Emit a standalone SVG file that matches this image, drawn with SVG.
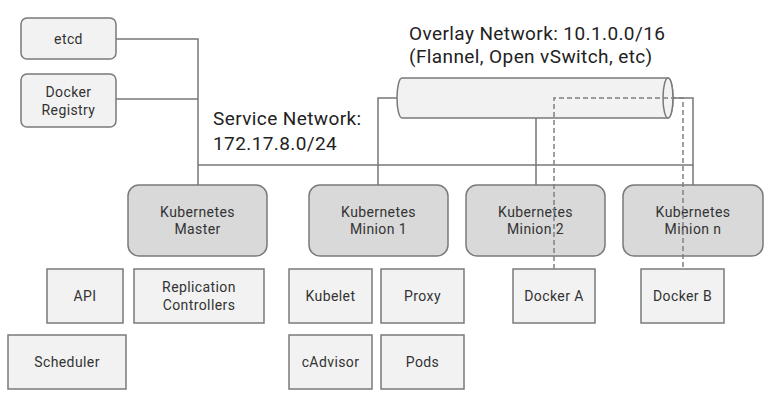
<svg xmlns="http://www.w3.org/2000/svg" width="773" height="407" viewBox="0 0 773 407">
<style>
.box{fill:#f2f2f2;stroke:#7a7a7a;stroke-width:1.5}
.kbox{fill:#d9d9d9;stroke:#7a7a7a;stroke-width:1.5}
.t{font-family:Roboto,"Liberation Sans",sans-serif;font-size:14px;letter-spacing:0.4px;fill:#333;text-anchor:middle}
.big{font-family:Roboto,"Liberation Sans",sans-serif;font-size:19px;letter-spacing:0.4px;fill:#222}
.ln{fill:none;stroke:#777;stroke-width:1.5}
.dash{fill:none;stroke:#808080;stroke-width:1.5;stroke-dasharray:5,3}
</style>
<rect width="773" height="407" fill="#fff"/>
<g id="labels">
<text class="big" x="409" y="40">Overlay Network: 10.1.0.0/16</text>
<text class="big" x="409" y="63">(Flannel, Open vSwitch, etc)</text>
<text class="big" x="213" y="125">Service Network:</text>
<text class="big" x="213" y="150">172.17.8.0/24</text>
</g>
<g id="connectors">
<path class="ln" d="M116,39 H198 V185"/>
<path class="ln" d="M116,99 H198"/>
<path class="ln" d="M198,165 H693"/>
<path class="ln" d="M397,98 H378 V185"/>
<path class="ln" d="M536,118 V185"/>
<path class="ln" d="M673,98 H693 V185"/>
</g>
<g id="overlay-network">
<path class="box" d="M402,78 H668 A5,20 0 0 1 668,118 H402 A5,20 0 0 1 402,78 Z"/>
<ellipse class="box" cx="668" cy="98" rx="5" ry="20"/>
</g>
<g id="etcd"><rect class="box" x="21" y="18" width="95" height="41" rx="6"/><text class="t" x="68.5" y="43.5">etcd</text></g>
<g id="docker-registry"><rect class="box" x="21" y="74" width="95" height="53" rx="6"/><text class="t" x="68.5" y="97">Docker</text><text class="t" x="68.5" y="115">Registry</text></g>
<g id="master"><rect class="kbox" x="128" y="185" width="139" height="71" rx="11"/><text class="t" x="197.5" y="217">Kubernetes</text><text class="t" x="197.5" y="234">Master</text></g>
<g id="minion1"><rect class="kbox" x="309" y="185" width="139" height="71" rx="11"/><text class="t" x="378.5" y="217">Kubernetes</text><text class="t" x="378.5" y="234">Minion 1</text></g>
<g id="minion2"><rect class="kbox" x="466" y="185" width="139" height="71" rx="11"/><text class="t" x="535.5" y="217">Kubernetes</text><text class="t" x="535.5" y="234">Minion 2</text></g>
<g id="minionn"><rect class="kbox" x="623" y="185" width="140" height="71" rx="11"/><text class="t" x="693" y="217">Kubernetes</text><text class="t" x="693" y="234">Minion n</text></g>
<g id="api"><rect class="box" x="47" y="269" width="76" height="54"/><text class="t" x="85" y="301">API</text></g>
<g id="replication"><rect class="box" x="134" y="269" width="130" height="54"/><text class="t" x="199" y="292">Replication</text><text class="t" x="199" y="310">Controllers</text></g>
<g id="scheduler"><rect class="box" x="8" y="335" width="118" height="54"/><text class="t" x="67" y="367">Scheduler</text></g>
<g id="kubelet"><rect class="box" x="289" y="269" width="83" height="54"/><text class="t" x="330.5" y="301">Kubelet</text></g>
<g id="proxy"><rect class="box" x="381" y="269" width="83" height="54"/><text class="t" x="422.5" y="301">Proxy</text></g>
<g id="cadvisor"><rect class="box" x="289" y="335" width="83" height="54"/><text class="t" x="330.5" y="367">cAdvisor</text></g>
<g id="pods"><rect class="box" x="381" y="335" width="83" height="54"/><text class="t" x="422.5" y="367">Pods</text></g>
<g id="docker-a"><rect class="box" x="513" y="269" width="82" height="54"/><text class="t" x="554" y="301">Docker A</text></g>
<g id="docker-b"><rect class="box" x="641" y="269" width="83" height="54"/><text class="t" x="682.5" y="301">Docker B</text></g>
<g id="overlay-links">
<path class="dash" d="M554,269 V98 H683 V269"/>
</g>
</svg>
